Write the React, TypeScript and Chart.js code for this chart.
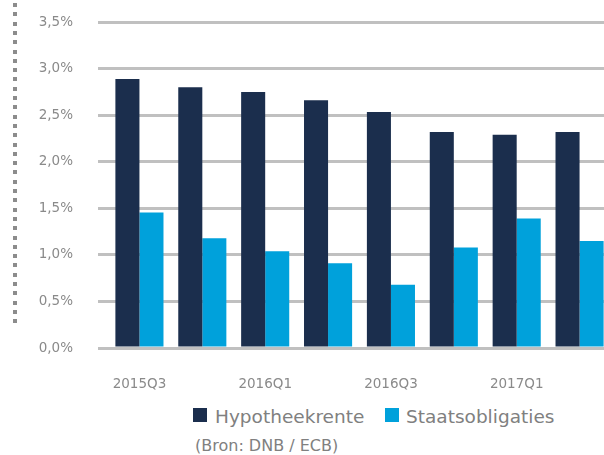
import React, { useEffect, useRef } from "react";
import { Chart, registerables } from "chart.js";

Chart.register(...registerables);

const categories = ["2015Q3", "2015Q4", "2016Q1", "2016Q2", "2016Q3", "2016Q4", "2017Q1", "2017Q2"];
const hypotheekrente = [2.89, 2.8, 2.75, 2.66, 2.535, 2.32, 2.29, 2.32];
const staatsobligaties = [1.455, 1.18, 1.04, 0.91, 0.68, 1.08, 1.39, 1.15];
const shownLabels = ["2015Q3", "2016Q1", "2016Q3", "2017Q1"];
const seriesNames = ["Hypotheekrente", "Staatsobligaties"];
const seriesColors = ["#1b2e4d", "#00a1db"];
const sourceText = "(Bron: DNB / ECB)";

const FONT = "'DejaVu Sans', sans-serif";
const GREY = "#8a8a8a";

export default function App() {
  const ref = useRef<HTMLCanvasElement | null>(null);

  useEffect(() => {
    if (!ref.current) return;
    const chart = new Chart(ref.current, {
      type: "bar",
      data: {
        labels: categories,
        datasets: [
          {
            label: seriesNames[0],
            data: hypotheekrente,
            backgroundColor: seriesColors[0],
            categoryPercentage: 0.765,
            barPercentage: 1.0,
          },
          {
            label: seriesNames[1],
            data: staatsobligaties,
            backgroundColor: seriesColors[1],
            categoryPercentage: 0.765,
            barPercentage: 1.0,
          },
        ],
      },
      options: {
        animation: false,
        responsive: false,
        maintainAspectRatio: false,
        layout: { padding: { top: 11, right: 0, bottom: 0, left: 0 } },
        plugins: {
          legend: { display: false },
          tooltip: { enabled: false },
        },
        scales: {
          x: {
            grid: { display: false },
            border: { display: false },
            ticks: {
              autoSkip: false,
              maxRotation: 0,
              padding: 20,
              color: GREY,
              font: { family: FONT, size: 13.5 },
              callback: (_v: any, i: number) =>
                shownLabels.includes(categories[i]) ? categories[i] : "",
            },
            afterFit: (s: any) => {
              s.height = 52;
            },
          },
          y: {
            min: 0,
            max: 3.5,
            ticks: {
              stepSize: 0.5,
              padding: 25,
              color: GREY,
              font: { family: FONT, size: 13.5 },
              callback: (v: any) => Number(v).toFixed(1).replace(".", ",") + "%",
            },
            grid: {
              color: "#c0c0c0",
              lineWidth: 3,
              drawTicks: true,
              tickLength: 10,
            },
            border: { display: false },
            afterFit: (s: any) => {
              s.width = 108;
            },
          },
        },
      },
    });
    return () => chart.destroy();
  }, []);

  const legendText: React.CSSProperties = {
    position: "absolute",
    fontFamily: FONT,
    fontSize: 18.5,
    color: "#808080",
    lineHeight: "22px",
    whiteSpace: "nowrap",
  };

  return (
    <div
      style={{
        position: "fixed",
        left: 0,
        top: 0,
        width: 604,
        height: 455,
        overflow: "hidden",
        background: "#fff",
      }}
    >
      <div
        style={{
          position: "absolute",
          left: 13,
          top: 3,
          width: 4,
          height: 320,
          background: "repeating-linear-gradient(to bottom, #8c8c8c 0px, #8c8c8c 4px, transparent 4px, transparent 9.3px)",
        }}
      />
      <canvas
        ref={ref}
        width={611}
        height={411}
        style={{ position: "absolute", left: 0, top: -11, width: 611, height: 411 }}
      />
      <div style={{ position: "absolute", left: 193, top: 408, width: 14, height: 14, background: seriesColors[0] }} />
      <div style={{ ...legendText, left: 215, top: 406 }}>{seriesNames[0]}</div>
      <div style={{ position: "absolute", left: 385, top: 408, width: 14, height: 14, background: seriesColors[1] }} />
      <div style={{ ...legendText, left: 406, top: 406 }}>{seriesNames[1]}</div>
      <div
        style={{
          position: "absolute",
          left: 195,
          top: 436,
          fontFamily: FONT,
          fontSize: 16,
          color: "#808080",
          lineHeight: "20px",
          whiteSpace: "nowrap",
        }}
      >
        {sourceText}
      </div>
    </div>
  );
}
